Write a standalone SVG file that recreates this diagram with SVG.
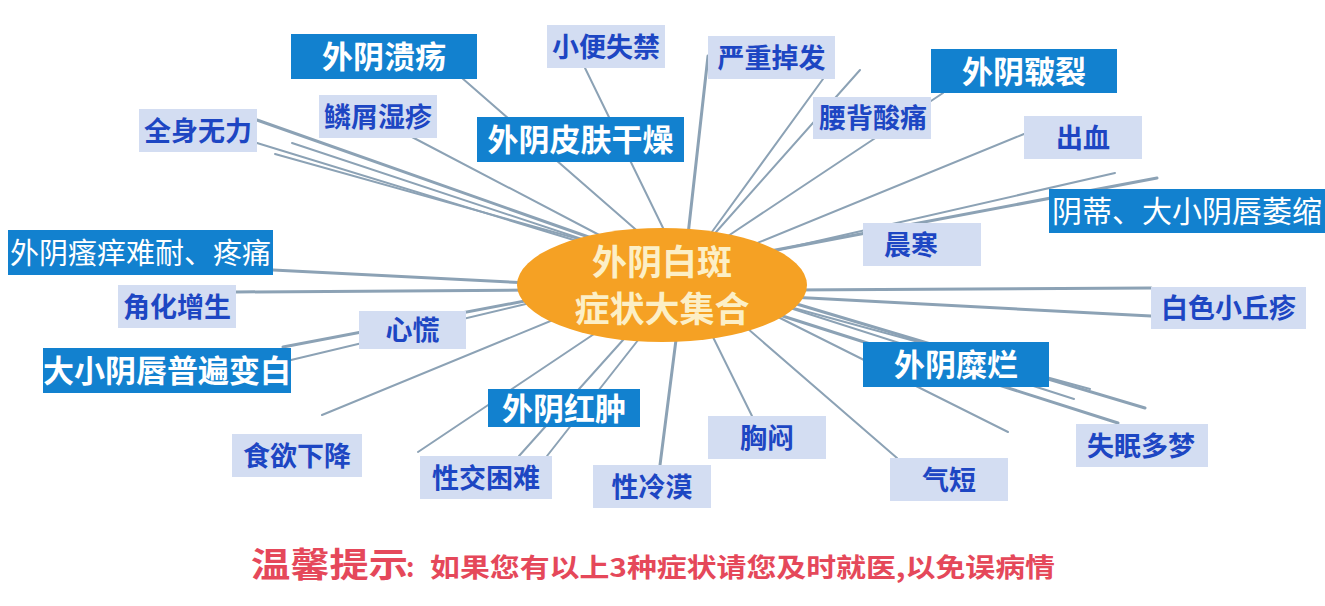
<svg xmlns="http://www.w3.org/2000/svg" width="1325" height="606" viewBox="0 0 1325 606">
<style>
.c line{stroke:#8ca2b5;stroke-width:2;stroke-linecap:round}
.c .w{stroke-width:3}
.lb rect{fill:#d3ddf2}
.lb text{fill:#1d46c3;font-family:"Noto Sans CJK SC","Noto Sans",sans-serif;font-weight:bold;font-size:27px;text-anchor:middle}
.db rect{fill:#1281cf}
.db text{fill:#ffffff;font-family:"Noto Sans CJK SC","Noto Sans",sans-serif;font-weight:bold;font-size:31px;text-anchor:middle}
.db text.n{font-weight:normal;font-size:29px}
.ctr text{fill:#fcefc6;font-family:"Noto Sans CJK SC","Noto Sans",sans-serif;font-weight:bold;font-size:35px;text-anchor:middle}
.warn{fill:#e5485a;font-family:"Noto Sans CJK SC","Noto Sans",sans-serif;font-weight:bold}
</style>
<rect width="1325" height="606" fill="#ffffff"/>
<g id="connectors" class="c">
<line x1="257" y1="120" x2="600" y2="241" class="w"/>
<line x1="257" y1="143" x2="600" y2="248"/>
<line x1="292" y1="143" x2="600" y2="245"/>
<line x1="275" y1="154" x2="600" y2="245"/>
<line x1="412" y1="137" x2="605" y2="238"/>
<line x1="462" y1="78" x2="642" y2="235"/>
<line x1="585" y1="68" x2="665" y2="232"/>
<line x1="708" y1="56" x2="688" y2="235" class="w"/>
<line x1="823" y1="79" x2="709" y2="236"/>
<line x1="860" y1="70" x2="709" y2="240"/>
<line x1="943" y1="93" x2="725" y2="238"/>
<line x1="1024" y1="134" x2="745" y2="248"/>
<line x1="1115" y1="173" x2="765" y2="253"/>
<line x1="1157" y1="178" x2="760" y2="253" class="w"/>
<line x1="1151" y1="288" x2="790" y2="290" class="w"/>
<line x1="1151" y1="316" x2="790" y2="297" class="w"/>
<line x1="1145" y1="408" x2="790" y2="302" class="w"/>
<line x1="1090" y1="389" x2="790" y2="307"/>
<line x1="1074" y1="399" x2="790" y2="308"/>
<line x1="1118" y1="423" x2="770" y2="312" class="w"/>
<line x1="1008" y1="432" x2="770" y2="313"/>
<line x1="897" y1="458" x2="740" y2="322"/>
<line x1="752" y1="416" x2="708" y2="327"/>
<line x1="660" y1="465" x2="677" y2="332" class="w"/>
<line x1="547" y1="456" x2="646" y2="330"/>
<line x1="519" y1="456" x2="632" y2="330"/>
<line x1="418" y1="452" x2="600" y2="330"/>
<line x1="322" y1="415" x2="570" y2="313"/>
<line x1="273" y1="270" x2="530" y2="283" class="w"/>
<line x1="236" y1="292" x2="530" y2="290" class="w"/>
<line x1="283" y1="347" x2="530" y2="300" class="w"/>
<line x1="291" y1="360" x2="530" y2="303"/>
</g>
<g id="n-kuiyang" class="db"><rect x="291" y="34" width="186" height="45"/><text x="384" y="68">外阴溃疡</text></g>
<g id="n-ganzao" class="db"><rect x="477" y="117" width="207" height="45"/><text x="580.5" y="151">外阴皮肤干燥</text></g>
<g id="n-junlie" class="db"><rect x="931" y="49" width="186" height="44"/><text x="1024" y="82.5">外阴皲裂</text></g>
<g id="n-weisuo" class="db"><rect x="1049" y="189" width="276" height="44"/><text class="n" x="1187" y="222" style="font-size:30px">阴蒂、大小阴唇萎缩</text></g>
<g id="n-saoyang" class="db"><rect x="8" y="230" width="265" height="45"/><text class="n" x="140.5" y="263.5">外阴瘙痒难耐、疼痛</text></g>
<g id="n-bianbai" class="db"><rect x="43" y="348" width="248" height="45"/><text x="167" y="382">大小阴唇普遍变白</text></g>
<g id="n-hongzhong" class="db"><rect x="488" y="389" width="152" height="38"/><text x="564" y="419.5">外阴红肿</text></g>
<g id="n-milan" class="db"><rect x="863" y="342" width="186" height="45"/><text x="956" y="376">外阴糜烂</text></g>
<g id="n-xiaobian" class="lb"><rect x="547" y="25" width="118" height="43"/><text x="606" y="56.5">小便失禁</text></g>
<g id="n-diaofa" class="lb"><rect x="708" y="36" width="127" height="43"/><text x="771.5" y="67.5">严重掉发</text></g>
<g id="n-yaobei" class="lb"><rect x="813" y="97" width="118" height="42"/><text x="873" y="128">腰背酸痛</text></g>
<g id="n-chuxue" class="lb"><rect x="1024" y="116" width="118" height="43"/><text x="1083" y="147.5">出血</text></g>
<g id="n-wuli" class="lb"><rect x="139" y="109" width="118" height="43"/><text x="198" y="140.5">全身无力</text></g>
<g id="n-shizhen" class="lb"><rect x="319" y="95" width="118" height="43"/><text x="378" y="126.5">鳞屑湿疹</text></g>
<g id="n-chenhan" class="lb"><rect x="863" y="223" width="118" height="43"/><text x="884" y="254.5" style="text-anchor:start">晨寒</text></g>
<g id="n-jiaohua" class="lb"><rect x="118" y="285" width="118" height="43"/><text x="177" y="316.5">角化增生</text></g>
<g id="n-xinhuang" class="lb"><rect x="359" y="311" width="107" height="38"/><text x="412.5" y="340">心慌</text></g>
<g id="n-qiuzhen" class="lb"><rect x="1151" y="287" width="155" height="42"/><text x="1228.5" y="318">白色小丘疹</text></g>
<g id="n-shimian" class="lb"><rect x="1076" y="424" width="132" height="43"/><text x="1141" y="455.5">失眠多梦</text></g>
<g id="n-qiduan" class="lb"><rect x="890" y="458" width="118" height="43"/><text x="949" y="489.5">气短</text></g>
<g id="n-shiyu" class="lb"><rect x="232" y="434" width="130" height="43"/><text x="297" y="465.5">食欲下降</text></g>
<g id="n-xingjiao" class="lb"><rect x="420" y="456" width="132" height="43"/><text x="486" y="487.5">性交困难</text></g>
<g id="n-lengmo" class="lb"><rect x="593" y="465" width="118" height="43"/><text x="652" y="496.5">性冷漠</text></g>
<g id="n-xiongmen" class="lb"><rect x="708" y="416" width="118" height="43"/><text x="767" y="447.5">胸闷</text></g>
<g id="center" class="ctr"><ellipse cx="662" cy="285" rx="145" ry="57" fill="#f5a124"/><text x="662" y="275">外阴白斑</text><text x="662" y="322">症状大集合</text></g>
<g id="tip">
<text class="warn" x="251" y="577" font-size="34" textLength="157" lengthAdjust="spacingAndGlyphs">温馨提示</text>
<text class="warn" x="406" y="577" font-size="26">:</text>
<text class="warn" x="430" y="577" font-size="26" textLength="625" lengthAdjust="spacingAndGlyphs">如果您有以上3种症状请您及时就医,以免误病情</text>
</g>
</svg>
